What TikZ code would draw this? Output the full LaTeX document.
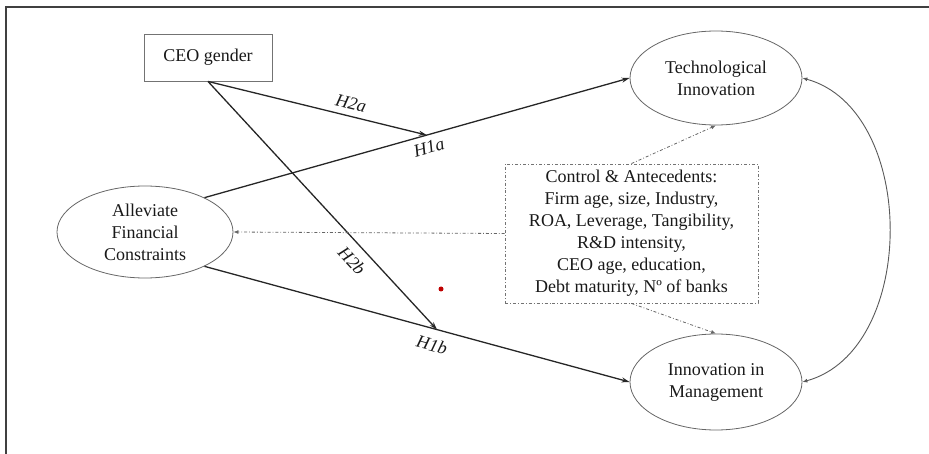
\documentclass[tikz,border=0pt]{standalone}
\usepackage{fontspec}
\setmainfont{Liberation Serif}
\usetikzlibrary{arrows.meta,shapes.geometric,calc}

\begin{document}
\begin{tikzpicture}[x=1pt,y=-1pt,
  font=\fontsize{18}{22}\selectfont,
  every node/.style={text=black!90},
  construct/.style={ellipse,draw=black!60,line width=0.8pt,align=center,inner sep=0pt},
  varbox/.style={rectangle,draw=black!55,line width=0.9pt,align=center},
  ctrlbox/.style={rectangle,draw=black!55,line width=0.9pt,dash dot,align=center,inner sep=0pt},
  path/.style={draw=black!85,line width=1.3pt,-{Stealth[length=8pt,width=5pt]}},
  ctrlpath/.style={draw=black!60,line width=0.8pt,dash dot,-{Latex[length=5pt,width=4pt]}},
  hyp/.style={font=\fontsize{18}{22}\selectfont\itshape,sloped,inner sep=2pt},
  covpath/.style={draw=black!65,line width=0.9pt,{Latex[length=5pt,width=4pt]}-{Latex[length=5pt,width=4pt]}}
]
\useasboundingbox (0,0) rectangle (929,454);

% frame
\draw[line width=1.6pt,black!75] (6,454) -- (6,7) -- (929,7);

% constructs
\node[varbox,minimum width=128pt,minimum height=47pt] (ceo) at (208,57.5) {CEO gender};
\node[construct,minimum width=176pt,minimum height=92pt] (afc) at (145,232) {Alleviate\\Financial\\Constraints};
\node[construct,minimum width=172pt,minimum height=94pt] (ti) at (716,78) {Technological\\Innovation};
\node[construct,minimum width=172pt,minimum height=96pt] (im) at (716,382) {Innovation in\\Management};
\node[ctrlbox,minimum width=253pt,minimum height=139pt] (ctrl) at (631.5,233.5)
  {Control \& Antecedents:\\Firm age, size, Industry,\\ROA, Leverage, Tangibility,\\R\&D intensity,\\CEO age, education,\\Debt maturity, Nº of banks};

% direct effects
\draw[path] (afc.30) -- node[hyp,below=4pt,pos=0.52] {H1a} (ti.west);
\draw[path] (afc.-30) -- node[hyp,below=7pt,pos=0.545] {H1b} (im.west);

% moderation points on the direct paths
\coordinate (m1) at ($(afc.30)!0.523!(ti.west)$);
\coordinate (m2) at ($(afc.-30)!0.547!(im.west)$);

\draw[path] (ceo.south) -- node[hyp,above=4pt,pos=0.64] {H2a} (m1);
\draw[path] (ceo.south) -- node[hyp,below=7pt,pos=0.68] {H2b} (m2);

% controls
\draw[ctrlpath] (ctrl.west) -- (afc.east);
\draw[ctrlpath] (ctrl.north) -- (ti.south);
\draw[ctrlpath] (ctrl.south) -- (im.north);

% covariance between outcomes
\draw[covpath] (ti.east) .. controls (918,110) and (918,350) .. (im.east);

% marker
\fill[red!75!black] (441,289) circle (2.5);
\end{tikzpicture}
\end{document}
